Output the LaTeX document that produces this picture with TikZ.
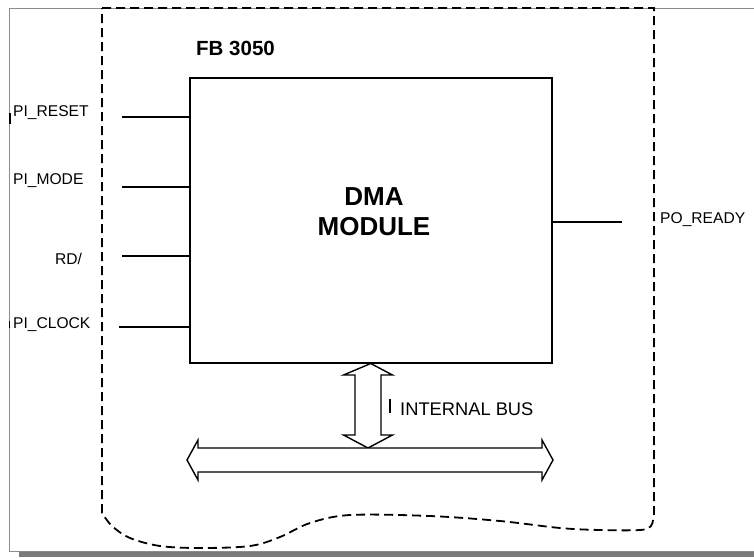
\documentclass[tikz,border=0pt]{standalone}
\usepackage{fontspec}
\setmainfont{Liberation Sans}
\definecolor{framegray}{HTML}{8C8C8C}
\definecolor{shadowgray}{HTML}{7A7A7A}
\begin{document}
\begin{tikzpicture}[x=1pt,y=-1pt,
  lbl/.style={font=\fontsize{15.6}{18}\selectfont, inner sep=0pt, anchor=base west},
  wire/.style={line width=1.5pt},
  boundary/.style={line width=1.8pt, dash pattern=on 9pt off 5pt},
  bus/.style={line width=1.4pt, fill=white, line join=miter},
  tick/.style={line width=1.2pt}]
\useasboundingbox (0,0) rectangle (754,557);
\fill[white] (0,0) rectangle (754,557);

% page frame with drop shadow
\fill[shadowgray] (19,551) rectangle (754,557);
\draw[framegray, line width=1pt] (754,8) -- (9,8) -- (9,551) -- (754,551);

% function block boundary (torn-off bottom edge)
\draw[boundary] (102,8) -- (654,8) -- plot[smooth, tension=0.55] coordinates {
  (654,514) (651,526) (640,530) (600,530) (560,528) (500,521) (430,516)
  (350,515) (310,523) (280,537) (250,546) (200,548) (160,546) (130,538)
  (112,526) (102,513)} -- cycle;

% block title
\node[font=\bfseries\fontsize{20.5}{24}\selectfont, inner sep=0pt, anchor=base west] (fb) at (196,55) {FB 3050};

% DMA module
\node[draw, line width=1.5pt, minimum width=362pt, minimum height=285pt,
      anchor=north west, inner sep=0pt] (dma) at (189,77) {};
\node[font=\bfseries\fontsize{26}{30}\selectfont, align=center, inner sep=0pt, anchor=base] (dmaname) at (374,205) {DMA};
\node[font=\bfseries\fontsize{26}{30}\selectfont, inner sep=0pt, anchor=base] (dmaname2) at (374,235) {MODULE};

% inputs
\coordinate (in1) at (122,117);
\coordinate (in2) at (122,187);
\coordinate (in3) at (122,256);
\coordinate (in4) at (119,327);
\draw[wire] (in1) -- (in1 -| dma.west);
\draw[wire] (in2) -- (in2 -| dma.west);
\draw[wire] (in3) -- (in3 -| dma.west);
\draw[wire] (in4) -- (in4 -| dma.west);
\node[lbl] (lrst) at (13,116.5) {PI\_RESET};
\node[lbl] (lmode) at (13,184.5) {PI\_MODE};
\node[lbl] (lrd) at (55,264) {RD/};
\node[lbl] (lclk) at (13,328.5) {PI\_CLOCK};

% output
\coordinate (out1) at (622,222);
\draw[wire] (out1 -| dma.east) -- (out1);
\node[lbl] (lrdy) at (660,223) {PO\_READY};

% stray marks
\draw[tick] (10,113) -- (10,124);
\draw[tick] (9.5,321) -- (9.5,328);
\draw[tick] (390,399) -- (390,413);

% internal bus: vertical link and horizontal bus
\coordinate (vtop) at (dma.south);
\coordinate (vbot) at (368,448);
\draw[bus] (vtop) -- (392.5,375) -- (381,375) -- (381,435) -- (392.5,435) -- (vbot)
  -- (343.5,435) -- (355,435) -- (355,375) -- (343.5,375) -- cycle;
\coordinate (bl) at (187,460);
\coordinate (br) at (553,460);
\draw[bus] (bl) -- (198,440) -- (198,448) -- (542,448) -- (542,440) -- (br)
  -- (542,480) -- (542,472) -- (198,472) -- (198,480) -- cycle;
\node[font=\fontsize{18.3}{22}\selectfont, inner sep=0pt, anchor=base west] (lbus) at (400,415) {INTERNAL BUS};
\end{tikzpicture}
\end{document}
